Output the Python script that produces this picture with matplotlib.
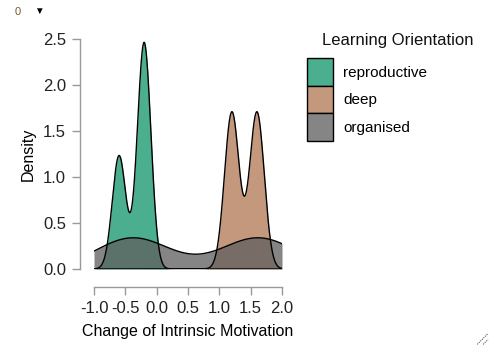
import matplotlib
matplotlib.use("Agg")
import matplotlib.pyplot as plt
from matplotlib.patches import Patch
from matplotlib.lines import Line2D
import numpy as np

plt.rcParams['font.family'] = ['Liberation Sans', 'DejaVu Sans']

groups = ['reproductive', 'deep', 'organised']
values = {
    'reproductive': [-0.6, -0.2, -0.2],
    'deep': [1.2, 1.6],
    'organised': [-0.38, 1.62],
}
bandwidths = {'reproductive': 0.108, 'deep': 0.117, 'organised': 0.59}
colors = {'reproductive': '#4aae8f', 'deep': '#c4987c', 'organised': '#606060'}
alphas = {'reproductive': 1.0, 'deep': 1.0, 'organised': 0.77}
legend_colors = ['#4aae8f', '#c4987c', '#858585']

x_ticks = [-1.0, -0.5, 0.0, 0.5, 1.0, 1.5, 2.0]
y_ticks = [0.0, 0.5, 1.0, 1.5, 2.0, 2.5]


def kde(data, bw, grid):
    data = np.asarray(data)
    z = (grid[:, None] - data[None, :]) / bw
    return np.exp(-0.5 * z ** 2).sum(axis=1) / (len(data) * bw * np.sqrt(2 * np.pi))


fig = plt.figure(figsize=(4.93, 3.55), dpi=100)
ax = fig.add_axes([0.1907, 0.2423, 0.3813, 0.6479])

grid = np.linspace(-1.0, 2.0, 600)
for g in groups:
    d = kde(values[g], bandwidths[g], grid)
    ax.fill_between(grid, 0, d, color=colors[g], alpha=alphas[g], linewidth=0)
    ax.plot(grid, d, color='black', lw=1.0)

ax.set_xlim(-1.0, 2.0)
ax.set_ylim(0, 2.5)
ax.set_xticks(x_ticks)
ax.set_xticklabels([f"{t:.1f}" for t in x_ticks])
ax.set_yticks(y_ticks)
ax.set_yticklabels([f"{t:.1f}" for t in y_ticks])

for s in ['top', 'right']:
    ax.spines[s].set_visible(False)
ax.spines['left'].set_position(('outward', 10))
ax.spines['bottom'].set_position(('outward', 13))
ax.spines['left'].set_bounds(0, 2.5)
ax.spines['bottom'].set_bounds(-1.0, 2.0)
for s in ['left', 'bottom']:
    ax.spines[s].set_color('#999999')
    ax.spines[s].set_linewidth(1.0)
ax.tick_params(axis='both', colors='#999999', labelcolor='#222222',
               labelsize=12, length=6, width=1.0, direction='out')
ax.tick_params(axis='y', pad=4)
ax.tick_params(axis='x', pad=4)
ax.set_xlabel('Change of Intrinsic Motivation', fontsize=11.5, labelpad=6)
ax.set_ylabel('Density', fontsize=11.5, labelpad=5)

handles = [Patch(facecolor=c, edgecolor='black', linewidth=1.0) for c in legend_colors]
fig.legend(handles, groups, loc='upper left',
           bbox_to_anchor=(307 / 493, 1 - 58 / 355), frameon=False, fontsize=11,
           handlelength=1.70, handleheight=2.41, labelspacing=0.0,
           handletextpad=0.65, borderaxespad=0, borderpad=0)
fig.text(398 / 493, 1 - 41 / 355, 'Learning Orientation', fontsize=12,
         ha='center', va='center', color='#111111')

# toolbar artefacts from the original screenshot
fig.text(0.030, 0.965, '0', color='#7a5a20', fontsize=8, ha='left', va='center')
fig.text(0.070, 0.968, '\u25bc', color='black', fontsize=7, ha='left', va='center')
for off in [0.0, 0.012]:
    fig.add_artist(Line2D([0.968 + off, 0.990], [0.030, 0.030 + (0.022 - off) * 4.93 / 3.55],
                          color='#555555', lw=0.8, linestyle=(0, (1, 1))))

fig.savefig('out.png', dpi=100)
